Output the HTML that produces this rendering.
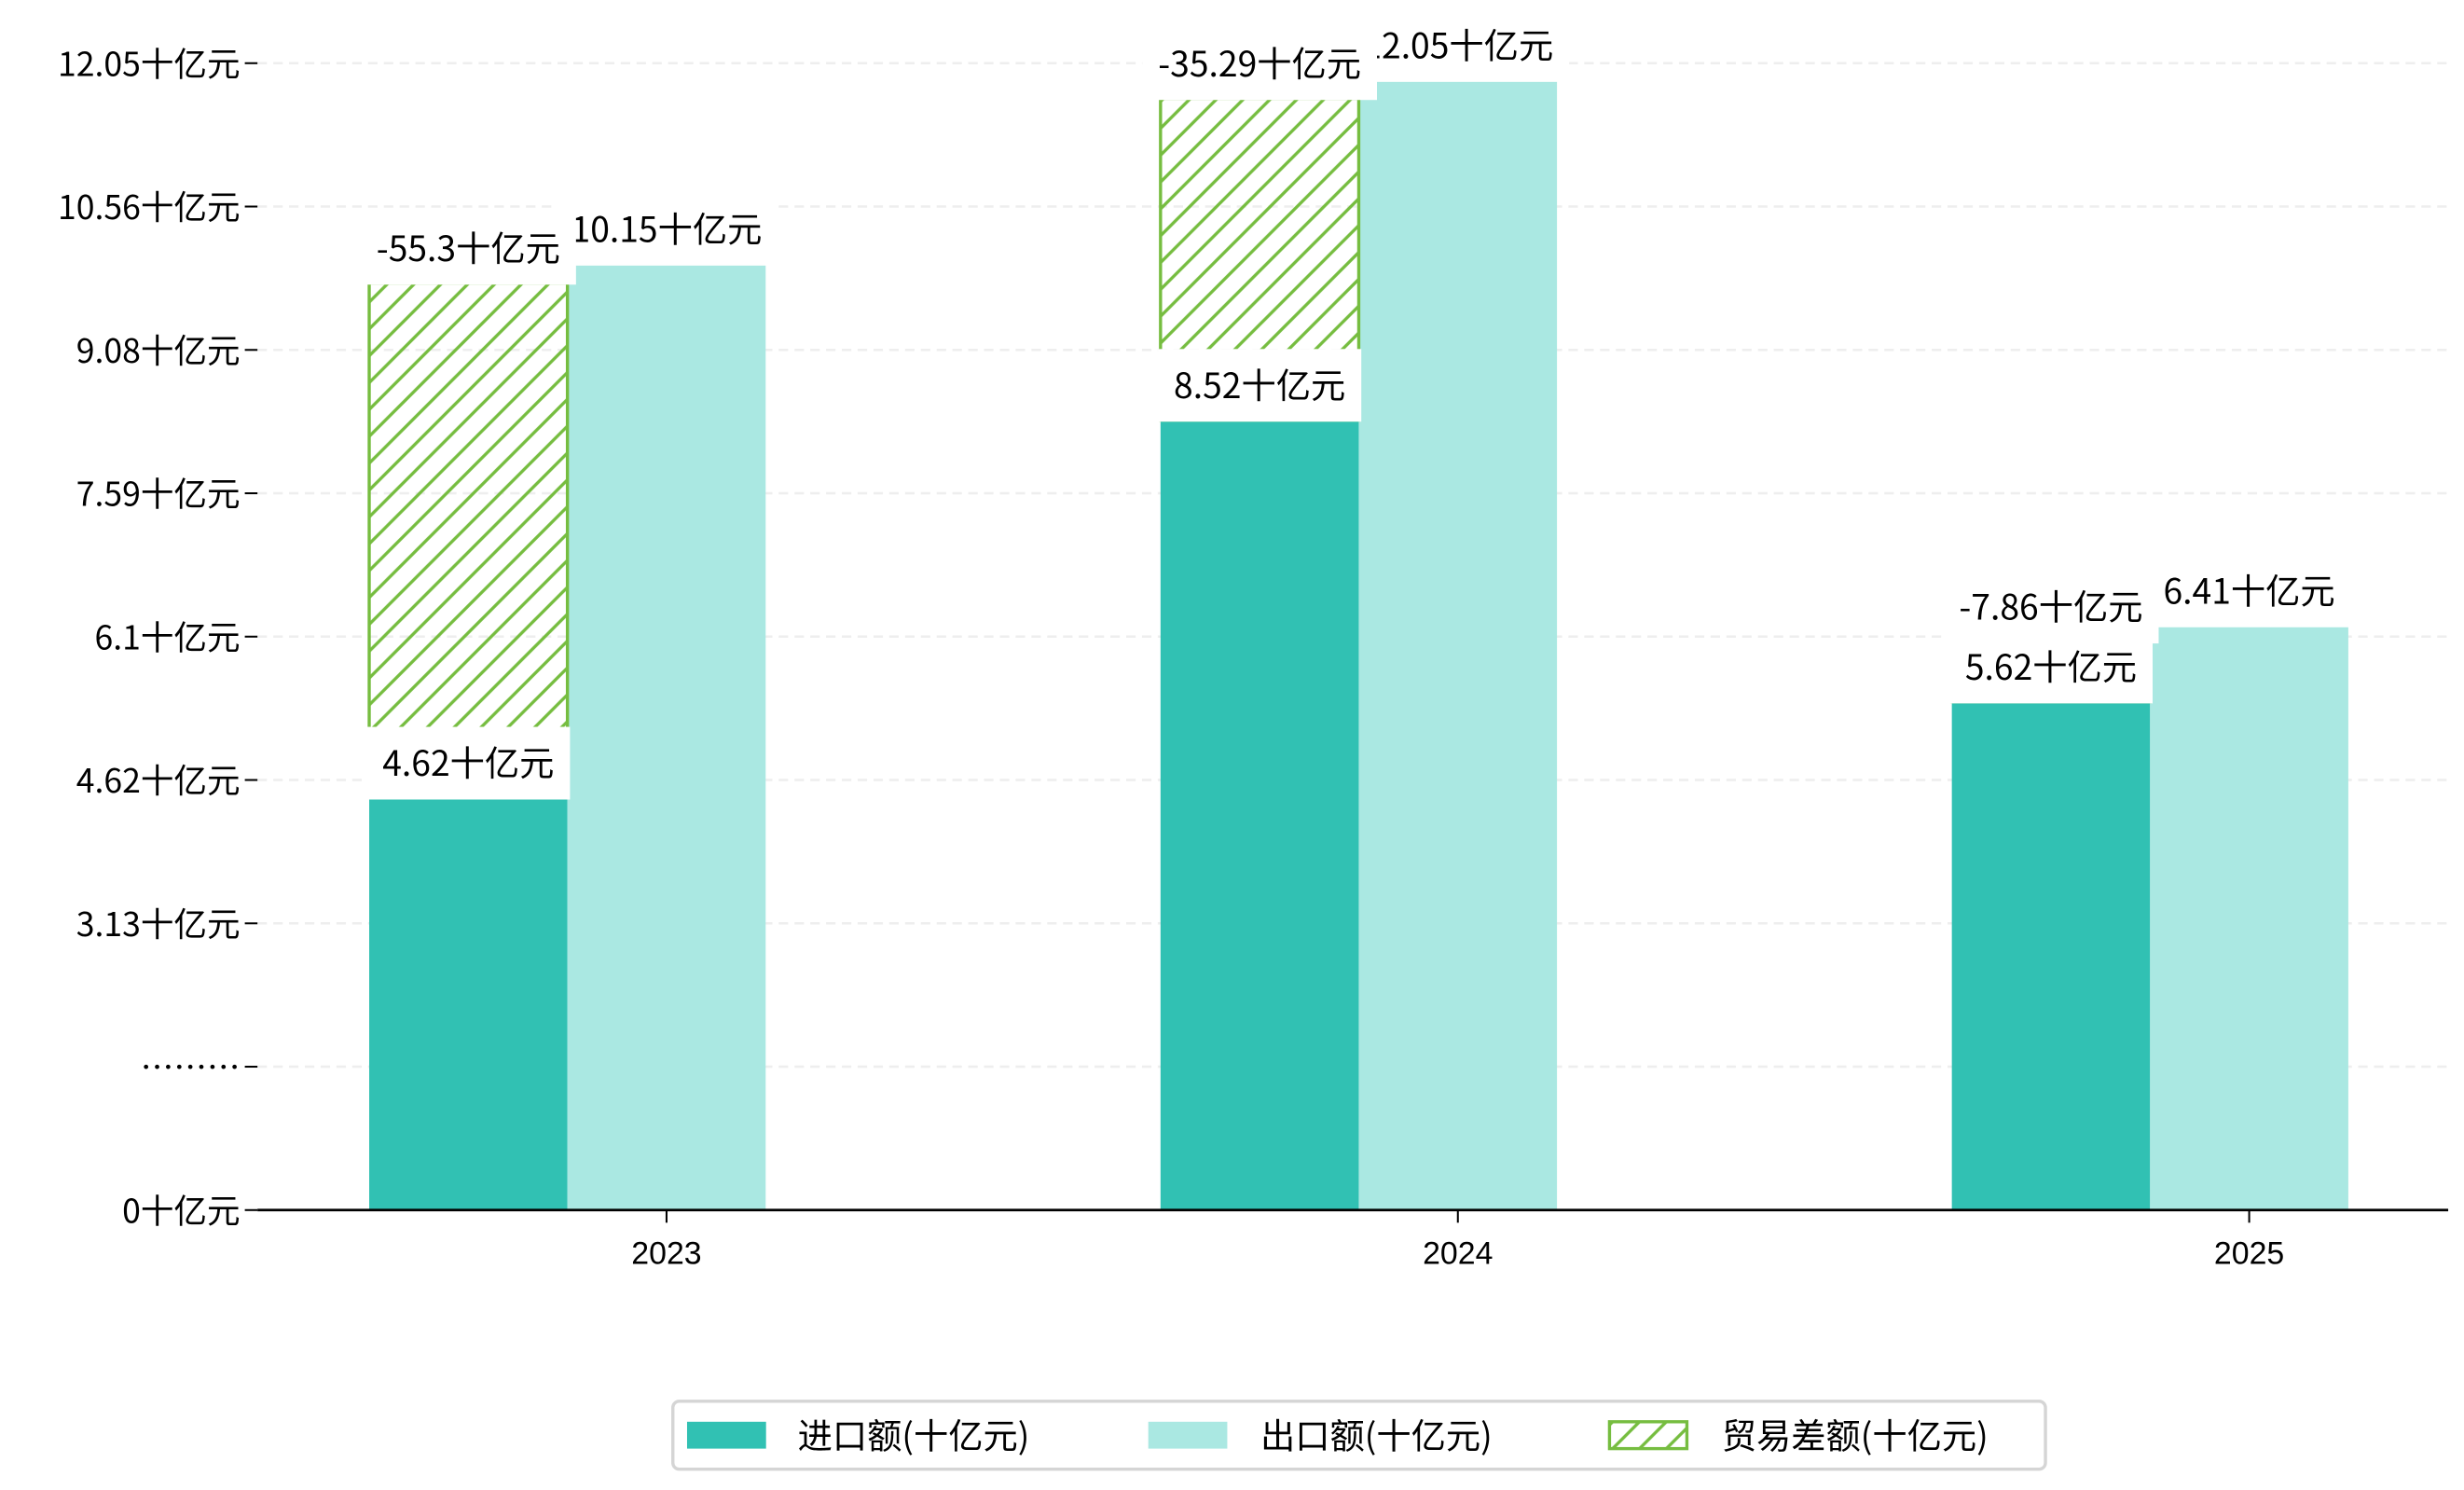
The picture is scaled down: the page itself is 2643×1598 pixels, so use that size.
<!DOCTYPE html>
<html><head><meta charset="utf-8">
<style>
html,body{margin:0;padding:0;background:#fff;}
svg{display:block;}
text{font-family:"Liberation Sans","Noto Sans CJK SC",sans-serif;}
.cjk{font-family:"Noto Sans CJK SC","WenQuanYi Zen Hei",sans-serif;}
</style></head>
<body>
<svg id="chart" width="2643" height="1598" viewBox="0 0 1560 943.2" xmlns="http://www.w3.org/2000/svg">
<defs>
<pattern id="hatch" patternUnits="userSpaceOnUse" width="17" height="17">
<path d="M-2,19 L19,-2 M-4,4 L4,-4 M13,21 L21,13" stroke="#76bd40" stroke-width="2"/>
</pattern>
</defs>
<g id="grid"></g>
<g id="bars"></g>
<g id="labels"></g>
<g id="axes"></g>
<g>
<rect x="426" y="887" width="869" height="43" rx="4" fill="#fff" stroke="#d5d5d5" stroke-width="2"/>
<rect x="435" y="900" width="50" height="17" fill="#31c1b3"/>
<text class="cjk" x="505" y="917" font-size="22">进口额(十亿元)</text>
<rect x="727" y="900" width="50" height="17" fill="#aae8e2"/>
<text class="cjk" x="798" y="917" font-size="22">出口额(十亿元)</text>
<rect x="1019" y="900" width="49" height="17" fill="url(#hatch)" stroke="#76bd40" stroke-width="2"/>
<text class="cjk" x="1090" y="917" font-size="22">贸易差额(十亿元)</text>
</g>
</svg>
<script>
const categories = ["2023","2024","2025"];
const importValues = [4.33, 8.30, 5.34];
const exportValues = [9.94, 11.87, 6.14];
const balanceTops = [9.74, 11.68, 5.97];
const importLabels = ["4.62十亿元","8.52十亿元","5.62十亿元"];
const exportLabels = ["10.15十亿元","12.05十亿元","6.41十亿元"];
const balanceLabels = ["-55.3十亿元","-35.29十亿元","-7.86十亿元"];
const tickLabels = ["0十亿元","………","3.13十亿元","4.62十亿元","6.1十亿元","7.59十亿元","9.08十亿元","10.56十亿元","12.05十亿元"];

const NS="http://www.w3.org/2000/svg";
const plotLeft=163, plotRight=1550, plotBase=766, plotTop=40, yMax=12.05;
function yPos(v){ return plotBase - v/yMax*(plotBase-plotTop); }
function xc(i){ return 422 + i*501; }
const bw = 125.5;
function mk(tag, attrs, parent){const e=document.createElementNS(NS,tag);for(const k in attrs)e.setAttribute(k,attrs[k]);parent.appendChild(e);return e;}
const gridG=document.getElementById('grid'), barsG=document.getElementById('bars'), labelsG=document.getElementById('labels'), axesG=document.getElementById('axes');

tickLabels.forEach(function(t,i){
  const ty = plotBase - i*(plotBase-plotTop)/(tickLabels.length-1);
  if(i>0){const g=mk('line',{x1:plotLeft,x2:plotRight,y1:ty,y2:ty,stroke:'#eeeeee','stroke-width':1.5,'stroke-dasharray':'6,4'},gridG);
  
  }
  const tk=mk('line',{x1:plotLeft-8,x2:plotLeft,y1:ty,y2:ty,stroke:'#000','stroke-width':1.2},axesG);
  
  
  const tl=mk('text',{x:152,y:ty+8,'text-anchor':'end','font-size':21,class:'cjk'},axesG);
  tl.textContent=t;
  
  
});
const ax=mk('line',{x1:plotLeft,x2:plotRight,y1:plotBase,y2:plotBase,stroke:'#000','stroke-width':1.6},axesG);



function addLabel(cx, barTop, txt, name){
  const g=mk('g',{},labelsG);
  
  
  const r=mk('rect',{x:cx-70,y:barTop-45,width:140,height:46,fill:'#fff'},g);
  const t=mk('text',{x:cx,y:barTop-14,'text-anchor':'middle','font-size':22,class:'cjk'},g);
  t.textContent=txt;
  try{const bb=t.getBBox(); if(bb.width>0){r.setAttribute('x',bb.x-10);r.setAttribute('width',bb.width+20);}}catch(e){}
}

categories.forEach(function(c,i){
  const xi=xc(i)-1.5*bw, xe=xc(i)-0.5*bw;
  const bi=mk('rect',{x:xi,y:yPos(importValues[i]),width:bw,height:plotBase-yPos(importValues[i]),fill:'#31c1b3'},barsG);
  
  
  const be=mk('rect',{x:xe,y:yPos(exportValues[i]),width:bw,height:plotBase-yPos(exportValues[i]),fill:'#aae8e2'},barsG);
  
  
  const hb=mk('rect',{x:xi,y:yPos(balanceTops[i]),width:bw,height:Math.max(0,yPos(importValues[i])-yPos(balanceTops[i])),fill:'url(#hatch)',stroke:'#76bd40','stroke-width':2},barsG);
  
  
  const xt=mk('line',{x1:xc(i),x2:xc(i),y1:plotBase,y2:plotBase+8,stroke:'#000','stroke-width':1.2},axesG);
  
  
  const xl=mk('text',{x:xc(i),y:plotBase+34,'text-anchor':'middle','font-size':20},axesG);
  xl.textContent=c;
  
  
});
categories.forEach(function(c,i){ addLabel(xc(i), yPos(exportValues[i]), exportLabels[i], 'export-label-'+c); });
categories.forEach(function(c,i){ addLabel(xc(i)-bw, yPos(balanceTops[i]), balanceLabels[i], 'balance-label-'+c); });
categories.forEach(function(c,i){ addLabel(xc(i)-bw, yPos(importValues[i]), importLabels[i], 'import-label-'+c); });
</script>
</body></html>
